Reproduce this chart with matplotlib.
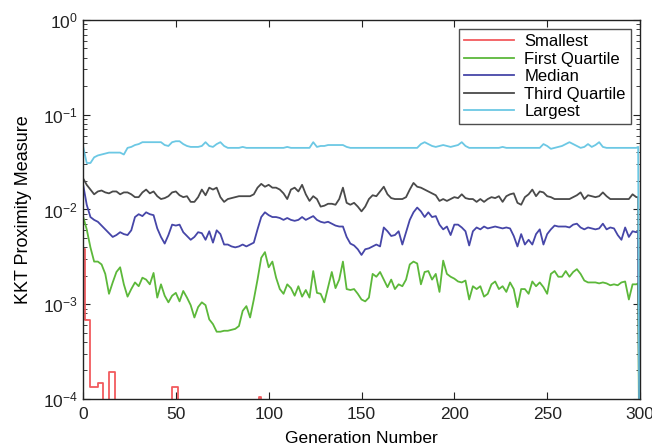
import numpy as np
import matplotlib
matplotlib.use("Agg")
import matplotlib.pyplot as plt
from matplotlib.ticker import LogLocator, NullFormatter, FixedLocator

plt.rcParams['font.family'] = ['Liberation Sans', 'DejaVu Sans']

# Generations sampled every second step, plus the last two generations
generation = list(range(0, 300, 2)) + [299, 300]

# log10 of the KKT proximity measure for each population statistic
log_first_quartile = [
    -2.07, -2.21, -2.40, -2.55, -2.55, -2.58, -2.68, -2.89, -2.77, -2.66,
    -2.61, -2.79, -2.92, -2.84, -2.77, -2.81, -2.72, -2.74, -2.79, -2.67,
    -2.93, -2.79, -2.91, -2.98, -2.91, -2.88, -2.97, -2.86, -2.93, -3.01,
    -3.14, -3.03, -2.98, -3.01, -3.16, -3.21, -3.29, -3.29, -3.28, -3.28,
    -3.27, -3.26, -3.23, -3.07, -3.02, -3.14, -2.95, -2.74, -2.51, -2.45,
    -2.61, -2.55, -2.72, -2.84, -2.89, -2.79, -2.83, -2.91, -2.81, -2.92,
    -2.85, -2.93, -2.65, -2.88, -2.89, -2.98, -2.82, -2.66, -2.83, -2.74,
    -2.55, -2.84, -2.85, -2.84, -2.89, -2.95, -2.97, -2.93, -2.68, -2.71,
    -2.66, -2.74, -2.82, -2.74, -2.84, -2.79, -2.81, -2.74, -2.58, -2.55,
    -2.57, -2.79, -2.66, -2.65, -2.74, -2.68, -2.87, -2.54, -2.68, -2.71,
    -2.73, -2.76, -2.77, -2.75, -2.95, -2.81, -2.84, -2.81, -2.92, -2.89,
    -2.79, -2.76, -2.84, -2.81, -2.87, -2.77, -2.84, -3.03, -2.84, -2.84,
    -2.89, -2.76, -2.81, -2.77, -2.82, -2.89, -2.68, -2.65, -2.71, -2.71,
    -2.65, -2.71, -2.66, -2.63, -2.68, -2.75, -2.77, -2.77, -2.77, -2.78,
    -2.77, -2.78, -2.80, -2.79, -2.80, -2.77, -2.76, -2.95, -2.79, -2.79,
    -2.78, -6.0,
]

log_median = [
    -1.73, -1.95, -2.08, -2.11, -2.13, -2.17, -2.21, -2.25, -2.29, -2.27,
    -2.24, -2.26, -2.27, -2.22, -2.08, -2.05, -2.07, -2.03, -2.05, -2.06,
    -2.20, -2.29, -2.36, -2.27, -2.16, -2.17, -2.16, -2.24, -2.28, -2.32,
    -2.29, -2.24, -2.25, -2.32, -2.23, -2.35, -2.22, -2.26, -2.37, -2.37,
    -2.39, -2.40, -2.39, -2.37, -2.39, -2.37, -2.35, -2.21, -2.08, -2.03,
    -2.06, -2.08, -2.08, -2.09, -2.11, -2.09, -2.11, -2.12, -2.11, -2.08,
    -2.11, -2.09, -2.07, -2.11, -2.13, -2.14, -2.13, -2.15, -2.17, -2.18,
    -2.18, -2.29, -2.36, -2.38, -2.42, -2.48, -2.42, -2.41, -2.39, -2.37,
    -2.39, -2.19, -2.23, -2.28, -2.27, -2.23, -2.37, -2.24, -2.11, -2.03,
    -1.98, -2.02, -2.08, -2.03, -2.08, -2.07, -2.16, -2.21, -2.18, -2.27,
    -2.16, -2.16, -2.19, -2.23, -2.38, -2.23, -2.19, -2.21, -2.18, -2.20,
    -2.19, -2.18, -2.19, -2.20, -2.19, -2.20, -2.28, -2.39, -2.26, -2.37,
    -2.32, -2.37, -2.26, -2.21, -2.37, -2.26, -2.21, -2.17, -2.18, -2.18,
    -2.18, -2.19, -2.16, -2.15, -2.19, -2.21, -2.19, -2.20, -2.21, -2.20,
    -2.15, -2.21, -2.19, -2.20, -2.27, -2.32, -2.19, -2.29, -2.23, -2.24,
    -2.23, -6.0,
]

log_third_quartile = [
    -1.67, -1.74, -1.79, -1.84, -1.81, -1.80, -1.82, -1.83, -1.81, -1.81,
    -1.84, -1.82, -1.82, -1.84, -1.87, -1.87, -1.82, -1.79, -1.83, -1.81,
    -1.86, -1.89, -1.88, -1.86, -1.82, -1.81, -1.85, -1.87, -1.86, -1.92,
    -1.92, -1.87, -1.79, -1.85, -1.77, -1.79, -1.77, -1.87, -1.92, -1.89,
    -1.88, -1.87, -1.86, -1.86, -1.86, -1.86, -1.84, -1.77, -1.73, -1.76,
    -1.74, -1.77, -1.77, -1.79, -1.83, -1.89, -1.79, -1.77, -1.81, -1.74,
    -1.84, -1.91, -1.86, -1.89, -1.97, -1.96, -1.94, -1.94, -1.95, -1.89,
    -1.77, -1.93, -1.95, -1.93, -1.97, -2.02, -1.97, -1.89, -1.85, -1.86,
    -1.81, -1.76, -1.84, -1.88, -1.89, -1.89, -1.89, -1.87, -1.79, -1.72,
    -1.76, -1.77, -1.79, -1.81, -1.83, -1.85, -1.91, -1.89, -1.91, -1.89,
    -1.87, -1.88, -1.84, -1.88, -1.89, -1.89, -1.92, -1.89, -1.92, -1.89,
    -1.87, -1.88, -1.86, -1.92, -1.86, -1.84, -1.83, -1.93, -1.95, -1.87,
    -1.84, -1.79, -1.86, -1.81, -1.82, -1.86, -1.87, -1.89, -1.89, -1.89,
    -1.89, -1.89, -1.87, -1.85, -1.82, -1.89, -1.85, -1.86, -1.87, -1.86,
    -1.82, -1.86, -1.89, -1.89, -1.89, -1.89, -1.89, -1.89, -1.84, -1.87,
    -1.87, -6.0,
]

log_largest = [
    -1.33, -1.51, -1.51, -1.45, -1.43, -1.42, -1.41, -1.40, -1.40, -1.40,
    -1.40, -1.42, -1.35, -1.34, -1.32, -1.31, -1.29, -1.29, -1.29, -1.29,
    -1.29, -1.29, -1.32, -1.33, -1.29, -1.28, -1.28, -1.31, -1.33, -1.34,
    -1.34, -1.34, -1.33, -1.29, -1.33, -1.34, -1.31, -1.29, -1.33, -1.35,
    -1.35, -1.35, -1.35, -1.34, -1.35, -1.35, -1.35, -1.35, -1.35, -1.35,
    -1.35, -1.35, -1.35, -1.35, -1.35, -1.34, -1.35, -1.35, -1.35, -1.35,
    -1.35, -1.35, -1.29, -1.34, -1.33, -1.33, -1.32, -1.32, -1.32, -1.32,
    -1.32, -1.34, -1.35, -1.35, -1.35, -1.35, -1.35, -1.35, -1.35, -1.35,
    -1.35, -1.35, -1.35, -1.35, -1.35, -1.35, -1.35, -1.35, -1.35, -1.35,
    -1.35, -1.31, -1.29, -1.31, -1.33, -1.34, -1.33, -1.32, -1.33, -1.34,
    -1.33, -1.32, -1.29, -1.33, -1.35, -1.35, -1.35, -1.35, -1.35, -1.35,
    -1.35, -1.35, -1.35, -1.34, -1.35, -1.35, -1.35, -1.35, -1.35, -1.35,
    -1.35, -1.35, -1.35, -1.35, -1.31, -1.33, -1.36, -1.35, -1.34, -1.33,
    -1.31, -1.29, -1.31, -1.33, -1.35, -1.34, -1.31, -1.34, -1.32, -1.29,
    -1.34, -1.35, -1.35, -1.35, -1.35, -1.35, -1.35, -1.35, -1.35, -1.35,
    -1.34, -6.0,
]

# The smallest value changes rarely, so it is stored as a step function
generation_smallest = [0, 1, 4, 8, 11, 14, 17, 48, 51, 95, 96, 300]
log_smallest = [-2.42, -3.17, -3.87, -3.83, -6.0, -3.72, -6.0, -3.87, -6.0,
                -3.98, -6.0, -6.0]

labels = ['Smallest', 'First Quartile', 'Median', 'Third Quartile', 'Largest']
colors = ['#f25a5e', '#5cb83a', '#4646a8', '#4a4a4a', '#6cc8e4']

fig = plt.figure(figsize=(6.52, 4.47), dpi=100)
ax = fig.add_axes([0.1273, 0.1074, 0.8543, 0.848])

ax.plot(generation_smallest, 10.0 ** np.array(log_smallest), color=colors[0],
        lw=1.3, drawstyle='steps-post', label=labels[0])
series = [log_first_quartile, log_median, log_third_quartile, log_largest]
for vals, lab, col in zip(series, labels[1:], colors[1:]):
    ax.plot(generation, 10.0 ** np.array(vals), color=col, lw=1.3, label=lab)

ax.set_yscale('log')
ax.set_xlim(0, 300)
ax.set_ylim(1e-4, 1e0)
ax.xaxis.set_major_locator(FixedLocator([0, 50, 100, 150, 200, 250, 300]))
ax.yaxis.set_major_locator(LogLocator(base=10, numticks=10))
ax.yaxis.set_minor_locator(LogLocator(base=10, subs=np.arange(2, 10), numticks=10))
ax.yaxis.set_minor_formatter(NullFormatter())

ax.tick_params(which='both', direction='in', top=True, right=True,
               labelsize=12.5, colors='#222222')
ax.tick_params(which='major', length=5, width=0.8)
ax.tick_params(which='minor', length=3, width=0.6)
ax.tick_params(axis='x', pad=6)
for sp in ax.spines.values():
    sp.set_linewidth(1.0)
    sp.set_color('#222222')

ax.set_xlabel('Generation Number', fontsize=12.5, labelpad=6)
ax.set_ylabel('KKT Proximity Measure', fontsize=13, labelpad=8)

leg = ax.legend(loc='upper right', fontsize=12, frameon=True, fancybox=False,
                edgecolor='#222222', handlelength=3.0, handletextpad=0.6,
                borderpad=0.3, labelspacing=0.15, borderaxespad=0.55)
leg.get_frame().set_linewidth(1.0)

fig.savefig('out.png', dpi=100)
